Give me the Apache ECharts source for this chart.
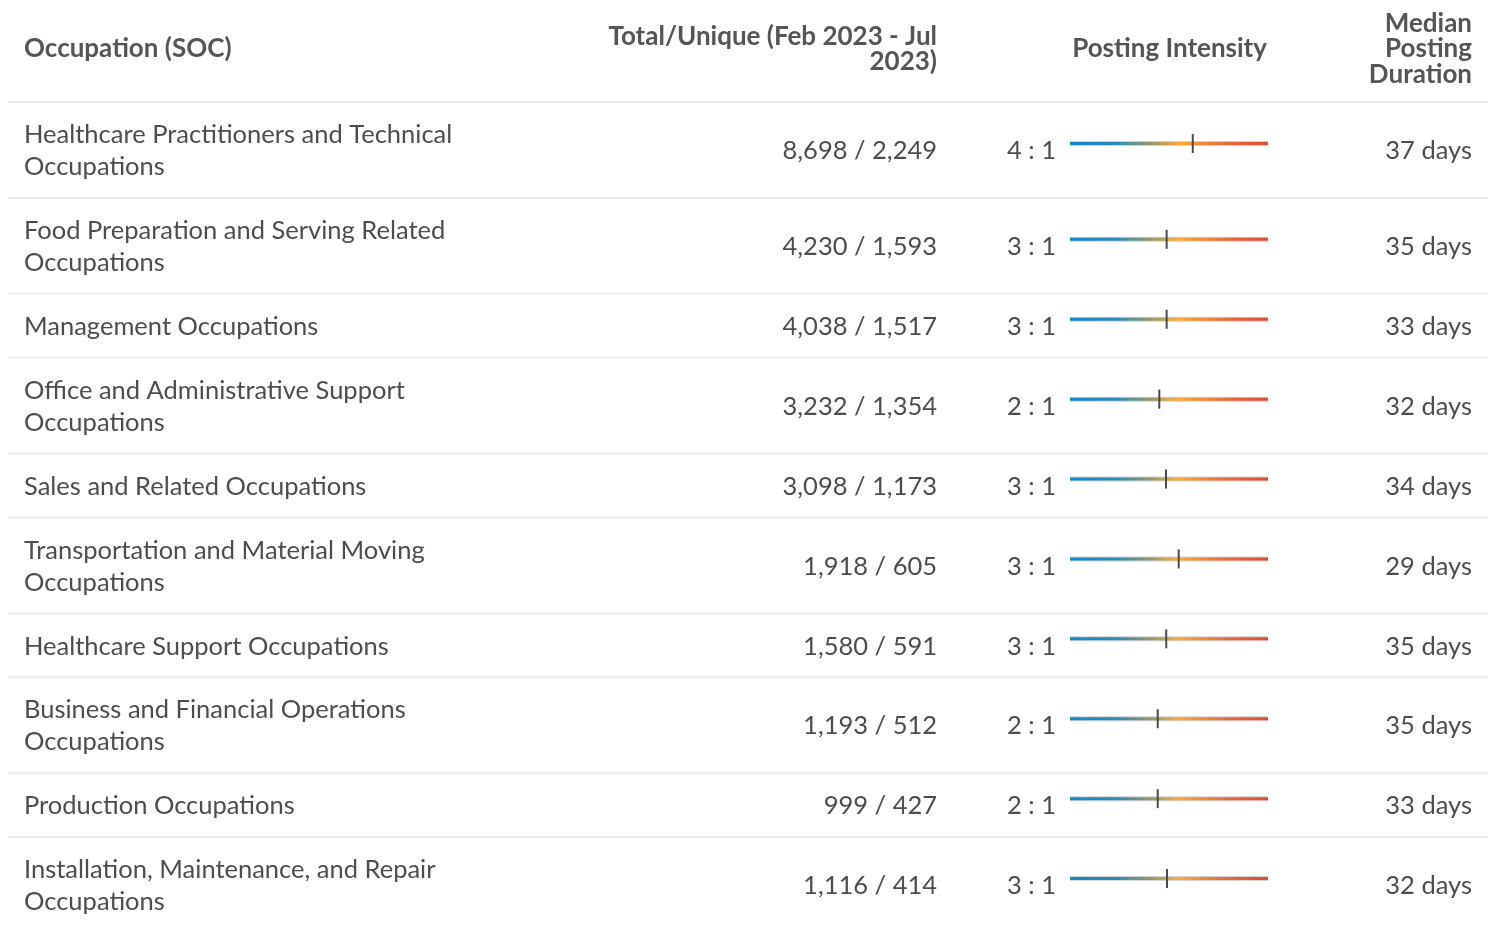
<!DOCTYPE html>
<html>
<head>
<meta charset="utf-8">
<script src="https://cdn.jsdelivr.net/npm/echarts@6/dist/echarts.min.js"></script>
<style>
  html, body { margin: 0; padding: 0; background: #fff; }
  #chart { width: 1497px; height: 933px; }
</style>
</head>
<body>
<div id="chart"></div>
<script>
// table data
const occupations = [
  "Healthcare Practitioners and Technical\nOccupations",
  "Food Preparation and Serving Related\nOccupations",
  "Management Occupations",
  "Office and Administrative Support\nOccupations",
  "Sales and Related Occupations",
  "Transportation and Material Moving\nOccupations",
  "Healthcare Support Occupations",
  "Business and Financial Operations\nOccupations",
  "Production Occupations",
  "Installation, Maintenance, and Repair\nOccupations"
];
const totals = [8698, 4230, 4038, 3232, 3098, 1918, 1580, 1193, 999, 1116];
const uniques = [2249, 1593, 1517, 1354, 1173, 605, 591, 512, 427, 414];
const ratios = [4, 3, 3, 2, 3, 3, 3, 2, 2, 3];
// marker position on the intensity track (0-100)
const intensity = [62.0, 48.8, 48.8, 45.1, 48.5, 54.9, 48.6, 44.3, 44.3, 49.0];
const days = [37, 35, 33, 32, 34, 29, 35, 35, 33, 32];

const FONT = "Lato, 'Noto Sans', sans-serif";
const TEXT = "#4d4d4d";
const HEAD = "#555555";

// each row takes (lines + 1) units in height
const rowTop = [];
const rowSpan = [];
let acc = 0;
occupations.forEach(function (name) {
  const lines = name.split("\n").length;
  rowTop.push(acc);
  rowSpan.push(lines + 1);
  acc += lines + 1;
});

const fmt = (n) => n.toLocaleString("en-US");

const chart = echarts.init(document.getElementById("chart"));

function renderRow(params, api) {
  const i = params.dataIndex;
  const top = api.coord([0, rowTop[i]])[1];
  const cy = api.coord([0, rowTop[i] + rowSpan[i] / 2])[1];
  const start = api.coord([0, 0])[0];
  const end = api.coord([100, 0])[0];
  const mx = api.coord([api.value(0), 0])[0];
  const ly = cy - 6.5;
  const body = { fontFamily: FONT, fontSize: 25.5, fill: TEXT, verticalAlign: "middle" };
  return {
    type: "group",
    children: [
      { type: "line", shape: { x1: 8, y1: top, x2: 1488, y2: top }, style: { stroke: "#ebebeb", lineWidth: 2 } },
      { type: "text", style: Object.assign({ text: occupations[i], x: 24, y: cy + 1, align: "left", lineHeight: 32 }, body) },
      { type: "text", style: Object.assign({ text: fmt(totals[i]) + " / " + fmt(uniques[i]), x: 937, y: cy + 1, align: "right" }, body) },
      { type: "text", style: Object.assign({ text: ratios[i] + " : 1", x: 1056, y: cy + 1, align: "right" }, body) },
      { type: "rect", shape: { x: start, y: ly - 2.5, width: end - start, height: 5 }, style: { fill: "#d2d2d2" } },
      {
        type: "rect",
        shape: { x: start, y: ly - 1.5, width: end - start, height: 3 },
        style: {
          fill: new echarts.graphic.LinearGradient(0, 0, 1, 0, [
            { offset: 0, color: "#1388cf" },
            { offset: 0.22, color: "#2a89b8" },
            { offset: 0.4, color: "#8a9873" },
            { offset: 0.54, color: "#f8ae33" },
            { offset: 0.78, color: "#ea6a39" },
            { offset: 1, color: "#e04a3a" }
          ])
        }
      },
      { type: "line", shape: { x1: mx, y1: ly - 9.5, x2: mx, y2: ly + 9.5 }, style: { stroke: "#4a4a4a", lineWidth: 2 } },
      { type: "text", style: Object.assign({ text: days[i] + " days", x: 1472, y: cy + 1, align: "right" }, body) }
    ]
  };
}

const head = { fontFamily: FONT, fontSize: 26, fontWeight: "bold", fill: HEAD, verticalAlign: "middle", lineHeight: 25.5 };

chart.setOption({
  animation: false,
  grid: { left: 1070, width: 198, top: 102, height: 835 },
  xAxis: { type: "value", min: 0, max: 100, show: false },
  yAxis: { type: "value", min: 0, max: acc, inverse: true, show: false },
  graphic: [
    { type: "text", style: Object.assign({ text: "Occupation (SOC)", x: 24, y: 49, align: "left" }, head) },
    { type: "text", style: Object.assign({ text: "Total/Unique (Feb 2023 - Jul\n2023)", x: 937, y: 49, align: "right" }, head) },
    { type: "text", style: Object.assign({ text: "Posting Intensity", x: 1267, y: 49, align: "right" }, head) },
    { type: "text", style: Object.assign({ text: "Median\nPosting\nDuration", x: 1472, y: 49, align: "right" }, head) }
  ],
  series: [
    {
      type: "custom",
      clip: false,
      renderItem: renderRow,
      data: intensity.map((v, i) => [v, rowTop[i]])
    }
  ]
});
</script>
</body>
</html>
